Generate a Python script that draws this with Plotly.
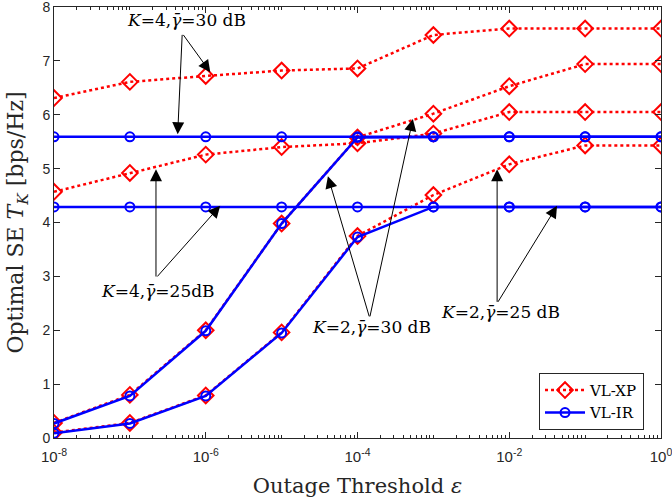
import plotly.graph_objects as go

# Data
epsilon = [1e-8, 1e-7, 1e-6, 1e-5, 1e-4, 1e-3, 1e-2, 1e-1, 1]

xp_k4_30 = [6.31, 6.61, 6.72, 6.82, 6.86, 7.48, 7.60, 7.60, 7.60]
xp_k4_25 = [4.57, 4.92, 5.26, 5.40, 5.47, 5.65, 6.05, 6.05, 6.05]
xp_k2_30 = [0.28, 0.80, 2.00, 3.98, 5.58, 6.02, 6.53, 6.94, 6.94]
xp_k2_25 = [0.10, 0.28, 0.79, 1.96, 3.75, 4.51, 5.08, 5.43, 5.43]

ir_k4_30 = [5.59, 5.59, 5.59, 5.59, 5.59, 5.59, 5.59, 5.59, 5.59]
ir_k4_25 = [4.29, 4.29, 4.29, 4.29, 4.29, 4.29, 4.29, 4.29, 4.29]
ir_k2_30 = [0.27, 0.78, 1.99, 3.98, 5.58, 5.59, 5.59, 5.59, 5.59]
ir_k2_25 = [0.09, 0.27, 0.78, 1.95, 3.73, 4.29, 4.29, 4.29, 4.29]

x_tickvals = [1e-8, 1e-6, 1e-4, 1e-2, 1]
x_ticktext = ["10<sup>-8</sup>", "10<sup>-6</sup>", "10<sup>-4</sup>", "10<sup>-2</sup>", "10<sup>0</sup>"]
y_tickvals = [0, 1, 2, 3, 4, 5, 6, 7, 8]

RED = "#FF0000"
BLUE = "#0000FF"
AX = "#262626"
SERIF = "DejaVu Serif, Liberation Serif, serif"
SANS = "Liberation Sans, Arial, sans-serif"

fig = go.Figure()

for i, ys in enumerate([xp_k4_30, xp_k4_25, xp_k2_30, xp_k2_25]):
    fig.add_trace(go.Scatter(
        x=epsilon, y=ys, mode="lines+markers", name="VL-XP",
        showlegend=(i == 0),
        line=dict(color=RED, width=2.5, dash="dot"),
        marker=dict(symbol="diamond-open", size=12, color=RED, line=dict(width=2, color=RED)),
    ))

for i, ys in enumerate([ir_k4_30, ir_k4_25, ir_k2_30, ir_k2_25]):
    fig.add_trace(go.Scatter(
        x=epsilon, y=ys, mode="lines+markers", name="VL-IR",
        showlegend=(i == 0),
        line=dict(color=BLUE, width=2.5),
        marker=dict(symbol="circle-open", size=9, color=BLUE, line=dict(width=2, color=BLUE)),
    ))

# minor tick positions for log axis
minor_vals = [m * 10.0 ** e for e in range(-8, 0) for m in range(2, 10)] + [10.0 ** e for e in range(-7, 0, 2)]

fig.update_xaxes(
    type="log", range=[-8, 0], automargin=False,
    tickvals=x_tickvals, ticktext=x_ticktext, ticklabeloverflow="allow",
    ticklabelstandoff=5,
    ticks="inside", ticklen=6, tickwidth=1, tickcolor=AX,
    minor=dict(tickvals=minor_vals, ticks="inside", ticklen=3, tickcolor=AX, showgrid=False),
    showline=True, linecolor=AX, linewidth=1, mirror="allticks",
    showgrid=False, zeroline=False,
    tickfont=dict(family=SANS, size=15, color=AX),
    title=dict(text="Outage Threshold <i>ε</i>", font=dict(family=SERIF, size=21, color=AX), standoff=14),
)
fig.update_yaxes(
    range=[0, 8], tickvals=y_tickvals, automargin=False, ticklabeloverflow="allow",
    ticks="inside", ticklen=6, tickwidth=1, tickcolor=AX,
    showline=True, linecolor=AX, linewidth=1, mirror="allticks",
    showgrid=False, zeroline=False,
    tickfont=dict(family=SANS, size=14, color=AX),
    title=dict(text="Optimal SE <i>T</i><sub><i>K</i></sub> [bps/Hz]", font=dict(family=SERIF, size=22, color=AX), standoff=12),
)

arrows = [
    # (tail_x_log, tail_y, head_x_log, head_y)
    (-6.31, 7.51, -5.94, 6.79),
    (-6.31, 7.51, -6.37, 5.64),
    (-6.656, 2.97, -6.656, 4.99),
    (-6.656, 2.97, -5.81, 4.31),
    (-3.84, 2.23, -4.39, 4.86),
    (-3.84, 2.23, -3.27, 5.92),
    (-2.16, 2.50, -2.16, 4.99),
    (-2.16, 2.50, -1.37, 4.31),
]
for tx, ty, hx, hy in arrows:
    fig.add_annotation(
        x=hx, y=hy, ax=tx, ay=ty, xref="x", yref="y", axref="x", ayref="y",
        text="", showarrow=True, arrowhead=2, arrowsize=2.4, arrowwidth=1,
        arrowcolor="black", standoff=0, startstandoff=0,
    )

labels = [
    (-6.26, 7.76, "<i>K</i>=4,<i>γ̄</i>=30 dB"),
    (-6.63, 2.73, "<i>K</i>=4,<i>γ̄</i>=25dB"),
    (-3.82, 2.06, "<i>K</i>=2,<i>γ̄</i>=30 dB"),
    (-2.11, 2.34, "<i>K</i>=2,<i>γ̄</i>=25 dB"),
]
for lx, ly, txt in labels:
    fig.add_annotation(
        x=lx, y=ly, xref="x", yref="y", text=txt, showarrow=False,
        font=dict(family=SERIF, size=17, color="black"),
    )

fig.update_layout(
    width=672, height=502,
    margin=dict(l=54, r=11, t=7, b=64),
    paper_bgcolor="white", plot_bgcolor="white",
    legend=dict(
        x=0.972, y=0.019, xanchor="right", yanchor="bottom",
        bgcolor="white", bordercolor=AX, borderwidth=1,
        font=dict(family=SERIF, size=15, color="black"),
        itemwidth=40, tracegroupgap=0,
    ),
)

fig.write_html("out.html", config={"displayModeBar": False},
               post_script="document.body.style.margin='0px';")
